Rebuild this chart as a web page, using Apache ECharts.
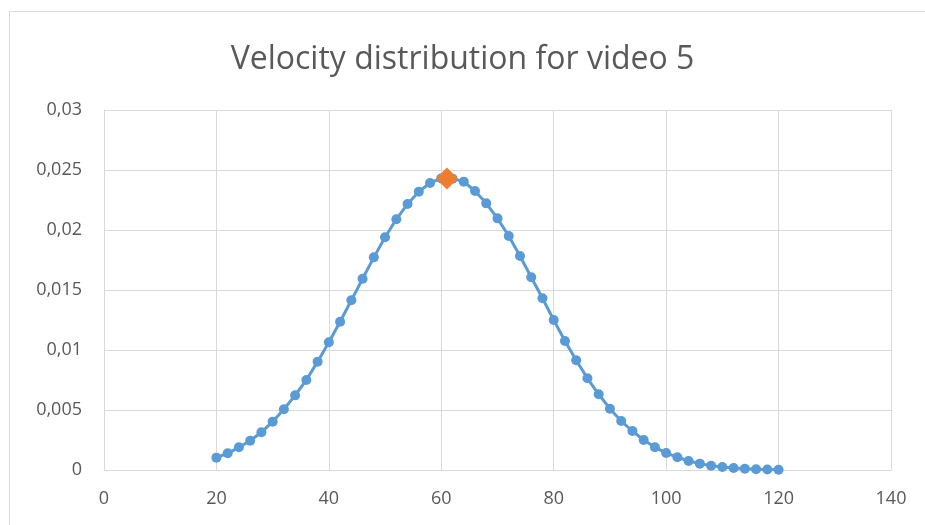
<!DOCTYPE html>
<html>
<head>
<meta charset="utf-8">
<script src="https://cdn.jsdelivr.net/npm/echarts@6/dist/echarts.min.js"></script>
<style>
  html, body { margin: 0; padding: 0; background: #fff; }
  #chart { width: 925px; height: 525px; }
</style>
</head>
<body>
<div id="chart"></div>
<script>
// velocity values (x) and density
var velocity = [20, 22, 24, 26, 28, 30, 32, 34, 36, 38,
                40, 42, 44, 46, 48, 50, 52, 54, 56, 58,
                60, 62, 64, 66, 68, 70, 72, 74, 76, 78,
                80, 82, 84, 86, 88, 90, 92, 94, 96, 98,
                100, 102, 104, 106, 108, 110, 112, 114, 116, 118, 120];
var density = [0.00103, 0.00139, 0.00189, 0.00244, 0.00314, 0.00403, 0.00506, 0.00622, 0.0075, 0.00903,
               0.01064, 0.01236, 0.01414, 0.01594, 0.01772, 0.01939, 0.02089, 0.02217, 0.02319, 0.02392,
               0.0243, 0.02428, 0.02403, 0.02325, 0.02222, 0.02097, 0.0195, 0.01783, 0.01606, 0.01431,
               0.0125, 0.01075, 0.00914, 0.00764, 0.00631, 0.00511, 0.00408, 0.00325, 0.0025, 0.00189,
               0.00142, 0.00106, 0.00075, 0.00053, 0.00036, 0.00025, 0.00017, 0.00011, 0.00006, 0.00004, 0.00002];
// the highlighted peak
var peakX = [61];
var peakY = [0.0243];

var chartTitle = 'Velocity distribution for video 5';

var myChart = echarts.init(document.getElementById('chart'));

var lineData = velocity.map(function(v, i) { return [v, density[i]]; });
var peakData = peakX.map(function(v, i) { return [v, peakY[i]]; });

var labelFont = 'Open Sans';
var textColor = '#595959';

var option = {
	animation: false,
	backgroundColor: '#fff',
	title: {
		text: chartTitle,
		left: 'center',
		top: 39,
		textStyle: {
			color: textColor,
			fontFamily: labelFont,
			fontSize: 32,
			fontWeight: 'normal'
		}
	},
	graphic: [{
		type: 'rect',
		shape: { x: 9.5, y: 11.5, width: 930, height: 530 },
		style: { fill: 'none', stroke: '#d9d9d9', lineWidth: 1 },
		silent: true
	}],
	grid: {
		left: 104,
		right: 34,
		top: 110,
		bottom: 55
	},
	xAxis: {
		type: 'value',
		min: 0,
		max: 140,
		interval: 20,
		axisLine: { show: true, lineStyle: { color: '#d9d9d9', width: 1 } },
		axisTick: { show: false },
		splitLine: { show: true, lineStyle: { color: '#d9d9d9', width: 1 } },
		axisLabel: {
			color: textColor,
			fontFamily: labelFont,
			fontSize: 18,
			margin: 20
		}
	},
	yAxis: {
		type: 'value',
		min: 0,
		max: 0.03,
		interval: 0.005,
		axisLine: { show: true, lineStyle: { color: '#d9d9d9', width: 1 } },
		axisTick: { show: false },
		splitLine: { show: true, lineStyle: { color: '#d9d9d9', width: 1 } },
		axisLabel: {
			color: textColor,
			fontFamily: labelFont,
			fontSize: 18,
			margin: 22,
			formatter: function(v) {
				return String(parseFloat(v.toFixed(4))).replace('.', ',');
			}
		}
	},
	series: [
		{
			name: 'density',
			type: 'line',
			data: lineData,
			symbol: 'circle',
			symbolSize: 10,
			smooth: false,
			lineStyle: { color: '#5b9bd5', width: 3 },
			itemStyle: { color: '#5b9bd5' },
			z: 2
		},
		{
			name: 'peak',
			type: 'scatter',
			data: peakData,
			symbol: 'diamond',
			symbolSize: [22, 22],
			itemStyle: { color: '#ed7d31', opacity: 1 },
			zlevel: 1,
			z: 10
		}
	]
};

myChart.setOption(option, true);
</script>
</body>
</html>
